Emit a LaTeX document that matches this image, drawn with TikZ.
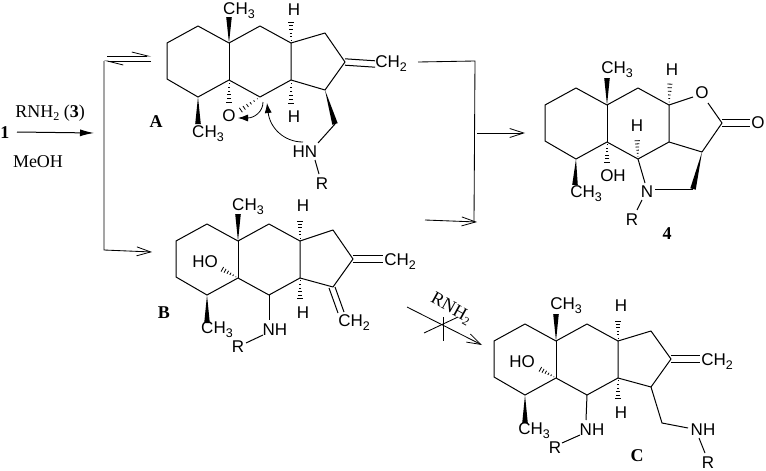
\documentclass[tikz,border=0pt]{standalone}
\usepackage{fontspec}
\setmainfont{Liberation Serif}
\setsansfont{Liberation Sans}
\usetikzlibrary{arrows.meta,calc}

\newcommand{\chemsub}[1]{\raisebox{-4pt}{\fontsize{12.5}{12.5}\selectfont #1}}
\newcommand{\txtsub}[1]{\raisebox{-3.5pt}{\fontsize{12}{12}\selectfont #1}}
\newcommand{\solidbond}[2]{\fill (#1) -- ($(#2)!2.8pt!90:(#1)$) -- ($(#2)!2.8pt!-90:(#1)$) -- cycle;}
\newcommand{\hashbond}[2]{
  \foreach \t in {0.12,0.27,0.42,0.57,0.72,0.87,1.0}{
    \draw[line width=0.8pt] ($(#1)!\t!(#2)!{\t*3pt}!90:(#2)$) -- ($(#1)!\t!(#2)!{\t*3pt}!-90:(#2)$);
  }
}

\tikzset{
  bond/.style={line width=1pt,line join=round},
  rxn/.style={line width=0.85pt,-{Straight Barb[length=14pt,width=9pt,line width=0.8pt]}},
  rxnline/.style={line width=0.85pt},
  atom/.style={font=\sffamily\fontsize{17}{20}\selectfont,inner sep=0pt},
  lbl/.style={font=\fontsize{18}{21}\selectfont,inner sep=0pt},
  cpd/.style={font=\bfseries\fontsize{18}{21}\selectfont,inner sep=0pt},
  pics/tricycle/.style={code={
    \coordinate (-a) at (-62,0);
    \coordinate (-b) at (-31,-17);
    \coordinate (-q) at (0,0);
    \coordinate (-c) at (31,-17);
    \coordinate (-d) at (62,0);
    \coordinate (-e) at (62,37);
    \coordinate (-f) at (31,54);
    \coordinate (-r) at (0,37);
    \coordinate (-g) at (-31,54);
    \coordinate (-h) at (-62,36);
    \draw[bond] (-a) -- (-b) -- (-q) -- (-c) -- (-d) -- (-e) -- (-f) -- (-r) -- (-g) -- (-h) -- cycle;
    \draw[bond] (-q) -- (-r);
  }}
}

\begin{document}
\begin{tikzpicture}[x=1pt,y=-1pt]
\useasboundingbox (0,0) rectangle (766,471);

% reagent arrow
\node[cpd] (one) at (5,133) {1};
\node[lbl] (reagent) at (50,113) {RNH\txtsub{2} (\textbf{3})};
\node[lbl] (solvent) at (38,162) {MeOH};
\coordinate (r1) at (17,132);
\coordinate (r2) at (94,133);
\draw[line width=1pt,-{Latex[length=14pt,width=7pt]}] (r1) -- (r2);

% equilibrium and branch
\coordinate (e1) at (107,56);
\coordinate (e2) at (151,56);
\coordinate (e3) at (151,61);
\coordinate (e4) at (104,61);
\coordinate (e5) at (104,250);
\coordinate (e6) at (152,252);
\draw[rxnline,-{Straight Barb[harpoon,length=16pt,width=8pt,line width=0.8pt]}] (e1) -- (e2);
\draw[rxnline,-{Straight Barb[harpoon,length=16pt,width=8pt,line width=0.8pt]}] (e3) -- (e4);
\draw[rxn] (e4) -- (e5) -- (e6);

% collecting bracket
\coordinate (k1) at (418,62);
\coordinate (k2) at (475,61);
\coordinate (k3) at (474,222);
\coordinate (k4) at (425,220);
\coordinate (k5) at (477,222);
\coordinate (k6) at (477,133);
\coordinate (k7) at (525,133);
\draw[rxnline] (k1) -- (k2) -- (k3);
\draw[rxn] (k4) -- (k5);
\draw[rxn] (k6) -- (k7);

% A
\pic (A) at (229,43) {tricycle};
\coordinate (Ap) at (325,33);
\coordinate (Ax) at (345,62);
\coordinate (As) at (325,90);
\coordinate (Am) at (335,124);
\coordinate (An) at (318,143);
\draw[bond] (A-d) -- (Ap) -- (Ax) -- (As) -- (A-e);
\node[atom] (Ach) at (239,11) {CH\chemsub{3}};
\node[atom] (Ahu) at (294,10) {H};
\node[atom] (Ahd) at (294,117) {H};
\node[atom] (Ao) at (229,116) {O};
\node[atom] (Acl) at (208,134) {CH\chemsub{3}};
\node[atom] (Acr) at (391,64) {CH\chemsub{2}};
\node[atom] (Anh) at (305,152) {HN};
\node[atom] (Ar) at (322,184) {R};
\node[cpd] (Alb) at (156,122) {A};
\draw[bond,transform canvas={yshift=3.2pt}] (Ax) -- (Acr.west);
\draw[bond,transform canvas={yshift=-3.2pt}] (Ax) -- (Acr.west);
\solidbond{A-q}{229,17}
\solidbond{A-g}{198,124}
\solidbond{As}{Am}
\hashbond{A-d}{291,19}
\hashbond{A-e}{291,107}
\hashbond{A-r}{229,106}
\hashbond{A-f}{238,112}
\draw[bond] (Am) -- (An);
\coordinate (Anb) at (315,160);
\coordinate (Arb) at (319,174);
\draw[bond] (Anb) -- (Arb);
% curved arrows
\coordinate (c1) at (263,102);
\coordinate (c2) at (238,118);
\coordinate (c3) at (303,142);
\coordinate (c4) at (267,103);
\draw[line width=0.8pt,-{Latex[length=10pt,width=7pt]}] (c1) .. controls (263,112) and (254,118) .. (c2);
\draw[line width=0.8pt,-{Latex[length=10pt,width=7pt]}] (c3) .. controls (284,142) and (270,128) .. (c4);

% B
\pic (B) at (238,241) {tricycle};
\coordinate (Bp) at (333,230);
\coordinate (Bx) at (353,259);
\coordinate (Bs) at (333,287);
\draw[bond] (B-d) -- (Bp) -- (Bx) -- (Bs) -- (B-e);
\node[atom] (Bch) at (248,207) {CH\chemsub{3}};
\node[atom] (Bhu) at (303,206) {H};
\node[atom] (Bhd) at (303,313) {H};
\node[atom] (Bho) at (205,262) {HO};
\node[atom] (Bcl) at (217,330) {CH\chemsub{3}};
\node[atom] (Bcr) at (400,262) {CH\chemsub{2}};
\node[atom] (Bcd) at (354,323) {CH\chemsub{2}};
\node[atom] (Bnh) at (275,330) {NH};
\node[atom] (Br) at (238,347) {R};
\node[cpd] (Blb) at (164,313) {B};
\draw[bond,transform canvas={yshift=3.2pt}] (Bx) -- (383,259);
\draw[bond,transform canvas={yshift=-3.2pt}] (Bx) -- (383,259);
\draw[bond] (329,288) -- (338,313);
\draw[bond] (335,287) -- (344,312);
\solidbond{B-q}{238,214}
\solidbond{B-g}{207,323}
\hashbond{B-d}{300,218}
\hashbond{B-e}{300,302}
\hashbond{B-r}{220,268}
\draw[bond] (B-f) -- (269,320);
\draw[bond] (246,343) -- (263,335);

% blocked arrow
\coordinate (x1) at (407,307);
\coordinate (x2) at (482,345);
\draw[rxn] (x1) -- (x2);
\coordinate (x3) at (443,317);
\coordinate (x4) at (443,341);
\coordinate (x5) at (424,333);
\coordinate (x6) at (458,317);
\draw[rxnline] (x3) -- (x4);
\draw[rxnline] (x5) -- (x6);
\node[lbl,rotate=-29] (block) at (451,309) {RNH\txtsub{2}};

% C
\pic (C) at (556,341) {tricycle};
\coordinate (Cp) at (651,331);
\coordinate (Cx) at (671,359);
\coordinate (Cs) at (651,387);
\coordinate (Cm) at (662,423);
\draw[bond] (C-d) -- (Cp) -- (Cx) -- (Cs) -- (C-e);
\node[atom] (Cch) at (566,306) {CH\chemsub{3}};
\node[atom] (Chu) at (621,306) {H};
\node[atom] (Chd) at (621,413) {H};
\node[atom] (Cho) at (522,362) {HO};
\node[atom] (Ccl) at (534,431) {CH\chemsub{3}};
\node[atom] (Ccr) at (717,362) {CH\chemsub{2}};
\node[atom] (Cnh) at (592,430) {NH};
\node[atom] (Cr) at (555,448) {R};
\node[atom] (Cnr) at (703,430) {NH};
\node[atom] (Crr) at (708,463) {R};
\node[cpd] (Clb) at (637,456) {C};
\draw[bond,transform canvas={yshift=3.2pt}] (Cx) -- (700,359);
\draw[bond,transform canvas={yshift=-3.2pt}] (Cx) -- (700,359);
\solidbond{C-q}{556,314}
\solidbond{C-g}{525,423}
\hashbond{C-d}{618,318}
\hashbond{C-e}{618,402}
\hashbond{C-r}{538,368}
\draw[bond] (C-f) -- (586,420);
\draw[bond] (562,443) -- (580,435);
\draw[bond] (Cs) -- (Cm) -- (688,428);
\draw[bond] (699,438) -- (705,453);

% 4
\pic (D) at (607,105) {tricycle};
\coordinate (Do) at (693,97);
\coordinate (Dq) at (708,103);
\coordinate (Dk) at (722,123);
\coordinate (Dt) at (702,152);
\coordinate (Dw) at (693,189);
\coordinate (Dn) at (655,189);
\coordinate (Dv) at (645,183);
\node[atom] (Dch) at (617,70) {CH\chemsub{3}};
\node[atom] (Dhu) at (672,70) {H};
\node[atom] (Dhm) at (637,126) {H};
\node[atom] (Dox) at (702,93) {O};
\node[atom] (Doc) at (758,123) {O};
\node[atom] (Doh) at (613,176) {OH};
\node[atom] (Dcl) at (586,194) {CH\chemsub{3}};
\node[atom] (Dnn) at (647,192) {N};
\node[atom] (Dr) at (632,220) {R};
\node[cpd] (Dlb) at (667,234) {4};
\draw[bond] (D-d) -- (Do);
\draw[bond] (Dq) -- (Dk) -- (Dt) -- (D-e);
\draw[bond,transform canvas={yshift=3.2pt}] (Dk) -- (750,123);
\draw[bond,transform canvas={yshift=-3.2pt}] (Dk) -- (750,123);
\draw[bond] (D-f) -- (Dv);
\draw[bond] (Dw) -- (Dn);
\draw[bond] (642,200) -- (637,210);
\solidbond{Dt}{Dw}
\solidbond{D-q}{607,78}
\solidbond{D-g}{575,185}
\hashbond{D-d}{670,81}
\hashbond{D-f}{637,138}
\hashbond{D-r}{607,165}
\end{tikzpicture}
\end{document}
